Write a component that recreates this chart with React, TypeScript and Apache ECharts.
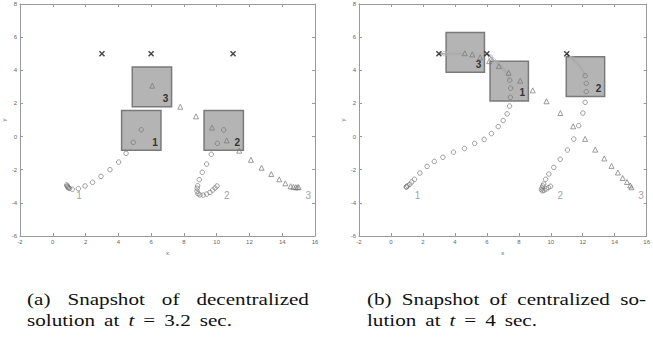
import React, { useEffect, useRef } from "react";
import * as echarts from "echarts";

// ---------- axes ----------
const X_MIN = -2;
const X_MAX = 16;
const Y_MIN = -6;
const Y_MAX = 8;
const STEP = 2;

// ---------- panel (a): decentralized, t = 3.2 s ----------
const aCircles1 = [
  [0.85, -2.92], [0.88, -2.98], [0.9, -3.03], [0.93, -3.07], [0.97, -3.1], [1.02, -3.13],
  [1.19, -3.18], [1.56, -3.14], [1.97, -2.98], [2.43, -2.76], [2.94, -2.4], [3.49, -2.0],
  [4.02, -1.54], [4.47, -1.01], [4.91, -0.35], [5.4, 0.41],
];
const aCircles2 = [
  [10.02, -2.98], [9.9, -3.1], [9.76, -3.23], [9.59, -3.37], [9.39, -3.47], [9.18, -3.53],
  [8.98, -3.52], [8.86, -3.45], [8.8, -3.3], [8.81, -3.12], [8.84, -2.97], [8.94, -2.6],
  [9.12, -2.16], [9.39, -1.66], [9.67, -1.07], [10.04, -0.41], [10.43, 0.4],
];
const aTriangles3 = [
  [15.0, -3.05], [14.92, -3.06], [14.82, -3.06], [14.68, -3.04], [14.51, -3.0], [14.19, -2.82],
  [13.82, -2.58], [13.33, -2.26], [12.74, -1.88], [12.09, -1.4], [11.38, -0.85], [10.61, -0.23],
  [9.71, 0.54], [8.74, 1.22], [7.78, 1.8], [6.07, 3.07],
];
// [x0, y0, x1, y1, label]
const aBoxes: [number, number, number, number, string][] = [
  [4.2, -0.83, 6.6, 1.57, "1"],
  [9.23, -0.83, 11.63, 1.57, "2"],
  [4.85, 1.8, 7.25, 4.2, "3"],
];
const aStartLabels: [number, number, string][] = [
  [1.6, -3.53, "1"],
  [10.61, -3.53, "2"],
  [15.59, -3.53, "3"],
];

// ---------- panel (b): centralized, t = 4 s ----------
const bCircles1 = [
  [0.95, -3.05], [0.98, -3.02], [1.05, -2.97], [1.18, -2.88], [1.3, -2.74], [1.47, -2.58],
  [1.81, -2.2], [2.26, -1.8], [2.71, -1.5], [3.25, -1.25], [3.91, -0.94], [4.6, -0.72],
  [5.24, -0.41], [5.83, -0.17], [6.29, 0.18], [6.71, 0.6], [7.02, 0.97], [7.27, 1.37],
  [7.42, 1.84], [7.47, 2.37], [7.49, 2.92], [7.43, 3.4],
];
const bCircles2 = [
  [9.98, -3.0], [9.86, -3.08], [9.72, -3.16], [9.58, -3.24], [9.47, -3.27], [9.42, -3.2],
  [9.45, -3.1], [9.5, -2.98], [9.56, -2.86], [9.68, -2.58], [9.88, -2.26], [10.19, -1.86],
  [10.59, -1.37], [11.04, -0.81], [11.44, -0.15], [11.75, 0.66], [12.01, 1.42],
  [12.15, 2.07], [12.22, 2.71], [12.22, 3.21], [12.15, 3.67],
];
const bTriangles3 = [
  [15.05, -3.06], [14.97, -2.95], [14.77, -2.74], [14.5, -2.5], [14.2, -2.17], [13.8, -1.77],
  [13.35, -1.32], [12.78, -0.79], [12.15, -0.14], [11.4, 0.62], [10.6, 1.42], [9.73, 2.13],
  [8.87, 2.79], [8.09, 3.37], [7.36, 3.85], [6.75, 4.25], [6.15, 4.55], [5.58, 4.78],
  [5.09, 4.96], [4.62, 5.03],
];
// planned (future) positions, drawn light
const bPlan1 = [[7.43, 3.4], [7.25, 3.82], [7.08, 4.02], [6.92, 4.22], [6.68, 4.42], [6.41, 4.62], [6.23, 4.82], [6, 5]];
const bPlan2 = [[12.15, 3.67], [11.95, 4.06], [11.75, 4.32], [11.54, 4.52], [11.34, 4.72], [11, 5]];
const bPlan3 = [[4.62, 5.03], [4.35, 5.0], [4.14, 5.0], [3.94, 5.0], [3.74, 5.0], [3.53, 5.0], [3.33, 5.0], [3, 5]];
const bBoxes: [number, number, number, number, string][] = [
  [6.2, 2.15, 8.6, 4.55, "1"],
  [10.97, 2.42, 13.37, 4.82, "2"],
  [3.45, 3.88, 5.85, 6.28, "3"],
];
const bStartLabels: [number, number, string][] = [
  [1.67, -3.53, "1"],
  [10.59, -3.53, "2"],
  [15.64, -3.53, "3"],
];

// goals (same in both panels)
const goals = [[3, 5], [6, 5], [11, 5]];

// captions (words; "*" prefix = italic)
const capA1 = ["(a)", "Snapshot", "of", "decentralized"];
const capA2 = ["solution", "at", "*t", "=", "3.2", "sec."];
const capB1 = ["(b)", "Snapshot", "of", "centralized", "so-"];
const capB2 = ["lution", "at", "*t", "=", "4", "sec."];

const TICK_FONT = "'Liberation Sans', Arial, sans-serif";
const SERIF = "'Liberation Serif', 'Times New Roman', serif";
const CAP_SIZE = 16.5;
const CAP_SX = 1.28;

function measure(t: string, font: string) {
  const ctx = document.createElement("canvas").getContext("2d")!;
  ctx.font = font;
  return ctx.measureText(t).width;
}

function justified(tokens: string[], x0: number, x1: number, y: number) {
  const items = tokens.map((t) => {
    const it = t.startsWith("*");
    const text = it ? t.slice(1) : t;
    const font = `${it ? "italic " : ""}${CAP_SIZE}px ${SERIF}`;
    return { text, font, w: measure(text, font) * CAP_SX };
  });
  const total = items.reduce((a, b) => a + b.w, 0);
  const gap = (x1 - x0 - total) / (items.length - 1);
  let x = x0;
  return items.map((it) => {
    const el = {
      type: "text",
      x,
      y,
      scaleX: CAP_SX,
      style: { text: it.text, font: it.font, fill: "#111", align: "left", verticalAlign: "middle" },
    };
    x += it.w + gap;
    return el;
  });
}

function axesFor(g: number) {
  const line = { show: true, onZero: false, lineStyle: { color: "#9a9a9a", width: 1 } };
  const tick = { show: true, inside: true, length: 3, lineStyle: { color: "#9a9a9a" } };
  const lab = { fontSize: 6, color: "#666", fontFamily: TICK_FONT };
  const base = { gridIndex: g, type: "value", min: X_MIN, max: X_MAX, interval: STEP, splitLine: { show: false } };
  const ybase = { gridIndex: g, type: "value", min: Y_MIN, max: Y_MAX, interval: STEP, splitLine: { show: false } };
  return {
    x: [
      {
        ...base, position: "bottom", axisLine: line, axisTick: tick,
        axisLabel: { ...lab, margin: 3, showMinLabel: true, showMaxLabel: true },
        name: "x", nameLocation: "middle", nameGap: 11, nameTextStyle: { ...lab },
      },
      { ...base, position: "top", axisLine: line, axisTick: tick, axisLabel: { show: false } },
    ],
    y: [
      {
        ...ybase, position: "left", axisLine: line, axisTick: tick,
        axisLabel: { ...lab, margin: 3, showMinLabel: true, showMaxLabel: true },
        name: "y", nameLocation: "middle", nameGap: 13, nameRotate: 90, nameTextStyle: { ...lab },
      },
      { ...ybase, position: "right", axisLine: line, axisTick: tick, axisLabel: { show: false } },
    ],
  };
}

const circleStyle = { color: "rgba(0,0,0,0)", borderColor: "#777", borderWidth: 0.9 };
const lightCircleStyle = { color: "rgba(0,0,0,0)", borderColor: "#b0b0b0", borderWidth: 0.9 };
const CROSS = "path://M0,0L10,10M10,0L0,10";

function panelSeries(
  g: number,
  circles: number[][][],
  triangles: number[][],
  boxes: [number, number, number, number, string][],
  labels: [number, number, string][],
  plans: number[][][]
) {
  const ax = { xAxisIndex: g * 2, yAxisIndex: g * 2 };
  const s: any[] = [];
  s.push({
    ...ax,
    type: "scatter",
    data: [],
    silent: true,
    markArea: {
      silent: true,
      itemStyle: { color: "#b4b4b4", borderColor: "#7a7a7a", borderWidth: 1.5 },
      label: {
        show: true,
        position: "insideBottomRight",
        distance: 4,
        fontSize: 10,
        fontWeight: "bold",
        color: "#333",
        fontFamily: TICK_FONT,
      },
      data: boxes.map((b) => [{ coord: [b[0], b[1]], name: b[4] }, { coord: [b[2], b[3]] }]),
    },
  });
  plans.forEach((p) => {
    s.push({
      ...ax,
      type: "line",
      data: p,
      symbol: "none",
      silent: true,
      z: 2,
      lineStyle: { color: "#a8a8a8", width: 1.6 },
    });
    s.push({
      ...ax,
      type: "scatter",
      data: p.slice(1, -1),
      symbol: "circle",
      symbolSize: 4.2,
      silent: true,
      z: 3,
      itemStyle: lightCircleStyle,
    });
  });
  circles.forEach((c) => {
    s.push({
      ...ax,
      type: "scatter",
      data: c,
      symbol: "circle",
      symbolSize: 4.5,
      silent: true,
      z: 4,
      itemStyle: circleStyle,
    });
  });
  s.push({
    ...ax,
    type: "scatter",
    data: triangles,
    symbol: "triangle",
    symbolSize: 5,
    silent: true,
    z: 4,
    itemStyle: circleStyle,
  });
  s.push({
    ...ax,
    type: "scatter",
    data: goals,
    symbol: CROSS,
    symbolSize: 5,
    silent: true,
    z: 5,
    itemStyle: { color: "rgba(0,0,0,0)", borderColor: "#1a1a1a", borderWidth: 1.5 },
  });
  s.push({
    ...ax,
    type: "scatter",
    data: labels.map((l) => ({ value: [l[0], l[1]], name: l[2] })),
    symbol: "circle",
    symbolSize: 1,
    silent: true,
    z: 5,
    itemStyle: { color: "rgba(0,0,0,0)" },
    label: {
      show: true,
      position: "inside",
      formatter: "{b}",
      fontSize: 10,
      color: "#8a8a8a",
      fontFamily: TICK_FONT,
    },
  });
  return s;
}

export default function App() {
  const ref = useRef<HTMLDivElement>(null);
  useEffect(() => {
    const chart = echarts.init(ref.current!, null, { renderer: "svg" });
    const a0 = axesFor(0);
    const a1 = axesFor(1);
    const option: any = {
      animation: false,
      backgroundColor: "#fff",
      grid: [
        { left: 20, top: 4, width: 295, height: 232, containLabel: false },
        { left: 359, top: 4, width: 296, height: 232, containLabel: false },
      ],
      xAxis: [...a0.x, ...a1.x],
      yAxis: [...a0.y, ...a1.y],
      series: [
        ...panelSeries(0, [aCircles1, aCircles2], aTriangles3, aBoxes, aStartLabels, []),
        ...panelSeries(1, [bCircles1, bCircles2], bTriangles3, bBoxes, bStartLabels, [bPlan1, bPlan2, bPlan3]),
      ],
      graphic: [
        ...justified(capA1, 27, 309, 299.5),
        ...justified(capA2, 27, 232, 320.5),
        ...justified(capB1, 367, 646, 299.5),
        ...justified(capB2, 367, 537, 320.5),
      ],
    };
    chart.setOption(option);
    return () => chart.dispose();
  }, []);
  return (
    <div
      ref={ref}
      style={{ position: "absolute", left: 0, top: 0, width: 653, height: 341, background: "#fff" }}
    />
  );
}
